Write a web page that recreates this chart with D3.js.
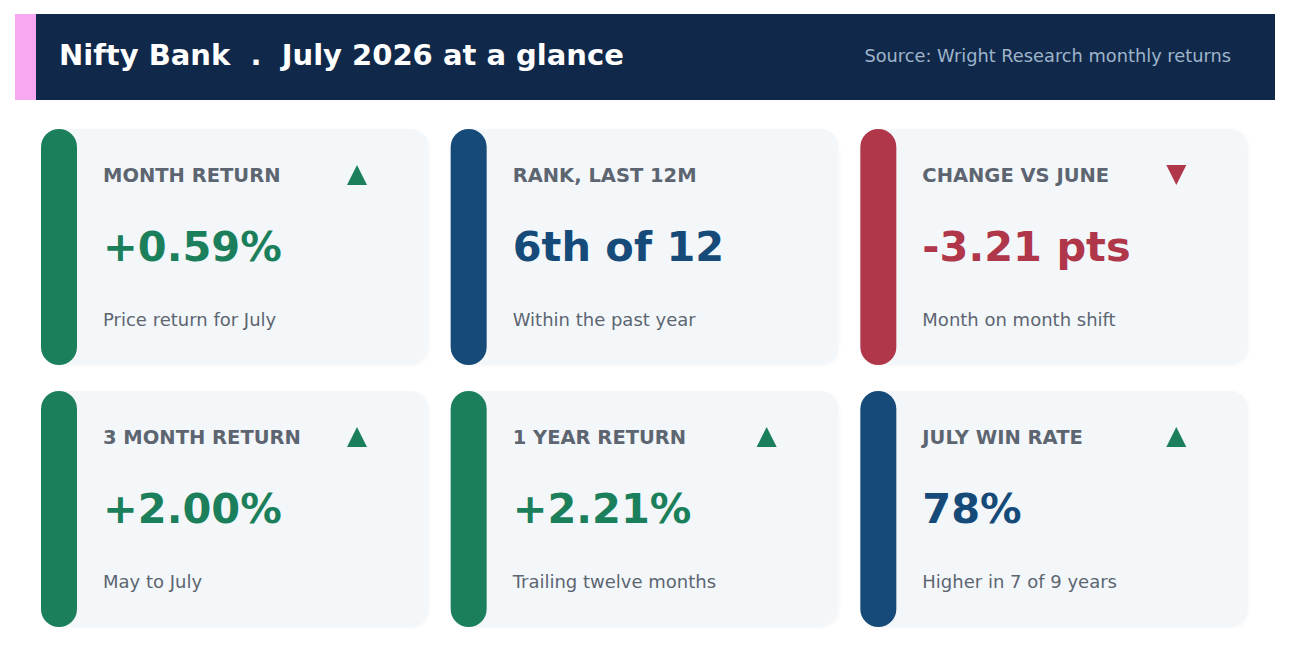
<!DOCTYPE html>
<html>
<head>
<meta charset="utf-8">
<script src="https://cdn.jsdelivr.net/npm/d3@7"></script>
<style>
  html, body { margin: 0; padding: 0; background: #ffffff; }
  svg { display: block; font-family: "DejaVu Sans", sans-serif; }
</style>
</head>
<body>
<div id="chart"></div>
<script>
// card contents
const labels = ["MONTH RETURN", "RANK, LAST 12M", "CHANGE VS JUNE",
                "3 MONTH RETURN", "1 YEAR RETURN", "JULY WIN RATE"];
const values = ["+0.59%", "6th of 12", "-3.21 pts", "+2.00%", "+2.21%", "78%"];
const subtitles = ["Price return for July", "Within the past year", "Month on month shift",
                   "May to July", "Trailing twelve months", "Higher in 7 of 9 years"];
const tones = ["up", "neutral", "down", "up", "up", "neutral"];
const arrows = ["up", "none", "down", "up", "up", "up"];

const title = "Nifty Bank  .  July 2026 at a glance";
const source = "Source: Wright Research monthly returns";

var cfg = {
  w: 1290,
  h: 659,
  header: {x: 15, y: 14, w: 1260, h: 86},
  cols: [41, 1248],
  rows: [129, 627],
  headerBg: "#10294a",
  pink: "#f7a8f0",
  cardBg: "#f3f7fa",
  label: "#5d6571",
};

const toneColor = {up: "#1b7f5b", neutral: "#164a78", down: "#b0364a"};

var svg = d3.select("#chart")
  .append("svg")
  .attr("width", cfg.w)
  .attr("height", cfg.h);

// faint shadow for the cards
var defs = svg.append("defs");
var f = defs.append("filter").attr("id", "shadow")
  .attr("x", "-5%").attr("y", "-5%").attr("width", "110%").attr("height", "115%");
f.append("feDropShadow")
  .attr("dx", 1).attr("dy", 1).attr("stdDeviation", 1.5)
  .attr("flood-color", "#000").attr("flood-opacity", 0.03);

// header band
svg.append("rect")
  .attr("x", cfg.header.x).attr("y", cfg.header.y)
  .attr("width", cfg.header.w).attr("height", cfg.header.h)
  .attr("fill", cfg.headerBg);
svg.append("rect")
  .attr("x", cfg.header.x).attr("y", cfg.header.y)
  .attr("width", 21).attr("height", cfg.header.h)
  .attr("fill", cfg.pink);

svg.append("text")
  .attr("x", 59).attr("y", 65)
  .attr("fill", "#ffffff")
  .style("font-size", "29px").style("font-weight", "bold")
  .style("white-space", "pre")
  .attr("xml:space", "preserve")
  .text(title);

svg.append("text")
  .attr("x", 1231).attr("y", 62)
  .attr("text-anchor", "end")
  .attr("fill", "#9fb4ca")
  .style("font-size", "17.8px")
  .text(source);

// grid of cards
var x = d3.scaleBand().domain([0, 1, 2]).range(cfg.cols).paddingInner(0.0537);
var y = d3.scaleBand().domain([0, 1]).range(cfg.rows).paddingInner(0.099);

var cards = labels.map(function(l, i) {
  return {label: l, value: values[i], sub: subtitles[i], tone: tones[i], arrow: arrows[i],
          col: i % 3, row: Math.floor(i / 3)};
});

var g = svg.selectAll("g.card")
  .data(cards)
  .enter()
  .append("g")
  .attr("class", "card")
  .attr("transform", function(d) { return "translate(" + x(d.col) + "," + y(d.row) + ")"; });

g.append("rect")
  .attr("width", x.bandwidth()).attr("height", y.bandwidth())
  .attr("rx", 18).attr("ry", 18)
  .attr("fill", cfg.cardBg)
  .attr("filter", "url(#shadow)");

g.append("rect")
  .attr("width", 36).attr("height", y.bandwidth())
  .attr("rx", 18).attr("ry", 18)
  .attr("fill", function(d) { return toneColor[d.tone]; });

g.append("text")
  .attr("x", 62).attr("y", 53)
  .attr("fill", cfg.label)
  .style("font-size", "19.5px").style("font-weight", "bold")
  .text(function(d) { return d.label; });

g.append("text")
  .attr("x", 62).attr("y", 132)
  .attr("fill", function(d) { return toneColor[d.tone]; })
  .style("font-size", "41.5px").style("font-weight", "bold")
  .text(function(d) { return d.value; });

g.append("text")
  .attr("x", 62).attr("y", 197)
  .attr("fill", cfg.label)
  .style("font-size", "18px")
  .text(function(d) { return d.sub; });

// direction markers
g.filter(function(d) { return d.arrow !== "none"; })
  .append("path")
  .attr("transform", "translate(316,46)")
  .attr("d", function(d) {
    return d.arrow === "up" ? "M-10,10L0,-10L10,10Z" : "M-10,-10L10,-10L0,10Z";
  })
  .attr("fill", function(d) { return toneColor[d.arrow === "up" ? "up" : "down"]; });
</script>
</body>
</html>
